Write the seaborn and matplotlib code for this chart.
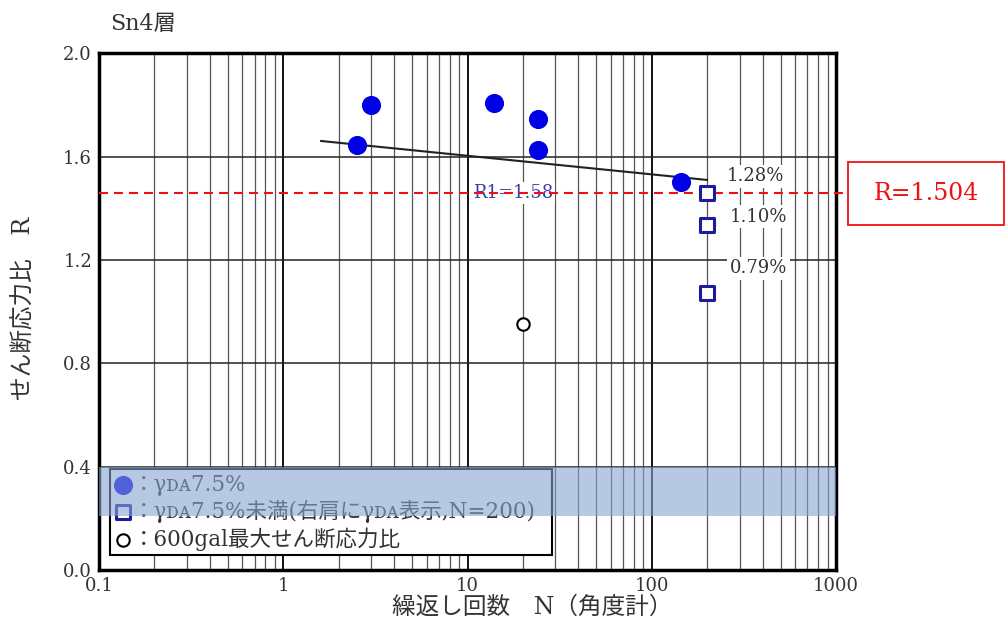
import matplotlib
matplotlib.use("Agg")
import matplotlib.pyplot as plt
import matplotlib.patches as mpatches
from matplotlib.ticker import FixedLocator, NullFormatter
import numpy as np
import pandas as pd
import seaborn as sns

# ---------------- data ----------------
N_da = [2.5, 3.0, 14, 24, 24, 145]
R_da = [1.645, 1.80, 1.807, 1.745, 1.626, 1.503]

N_sq = [200, 200, 200]
R_sq = [1.46, 1.336, 1.071]
sq_labels = ["1.28%", "1.10%", "0.79%"]

N_600 = [20]
R_600 = [0.952]

fit_N = [1.6, 200]
fit_R = [1.661, 1.510]

R_line = 1.46
R1_text = "R1=1.58"
R_box_text = "R=1.504"

band_lo, band_hi = 0.21, 0.40

x_ticks = [0.1, 1, 10, 100, 1000]
x_ticklabels = ["0.1", "1", "10", "100", "1000"]
y_ticks = [0.0, 0.4, 0.8, 1.2, 1.6, 2.0]
y_ticklabels = ["0.0", "0.4", "0.8", "1.2", "1.6", "2.0"]

title = "Sn4層"
xlabel = "繰返し回数　N（角度計）"
ylabel = "せん断応力比　R"
leg_labels = ["：γ\u1d05\u1d007.5%",
              "：γ\u1d05\u1d007.5%未満(右肩にγ\u1d05\u1d00表示,N=200)",
              "：600gal最大せん断応力比"]

# ---------------- style ----------------
sns.set_theme(style="white")
FAM = ["DejaVu Serif", "DejaVu Sans", "Noto Sans CJK JP"]
plt.rcParams["font.family"] = FAM

fig = plt.figure(figsize=(10.08, 6.3), dpi=100)
ax = fig.add_axes([99 / 1008, 1 - 570 / 630, 737 / 1008, 516.6 / 630])

ax.set_xscale("log")
ax.set_xlim(0.1, 1000)
ax.set_ylim(0.0, 2.0)

# grid
ax.xaxis.set_major_locator(FixedLocator(x_ticks))
minor = [m * 10.0 ** e for e in range(-1, 3) for m in range(2, 10)]
ax.xaxis.set_minor_locator(FixedLocator(minor))
ax.xaxis.set_minor_formatter(NullFormatter())
ax.set_xticks(x_ticks)
ax.set_xticklabels(x_ticklabels)
ax.set_yticks(y_ticks)
ax.set_yticklabels(y_ticklabels)
ax.grid(axis="x", which="major", color="#111111", lw=1.4, zorder=0)
ax.grid(axis="x", which="minor", color="#555555", lw=0.9, zorder=0)
ax.grid(axis="y", which="major", color="#222222", lw=1.1, zorder=0)
ax.set_axisbelow(True)
ax.tick_params(axis="both", which="both", length=0, labelsize=13, labelcolor="#333333")
ax.tick_params(axis="x", pad=5)
ax.tick_params(axis="y", pad=5)
for s in ax.spines.values():
    s.set_color("black")
    s.set_linewidth(2.5)
    s.set_visible(True)

# fit line
sns.lineplot(x=fit_N, y=fit_R, ax=ax, color="#222222", lw=1.5, zorder=3,
             estimator=None, sort=False)

# points
sns.scatterplot(x=N_da, y=R_da, ax=ax, color="#0000e6", s=190, marker="o",
                edgecolor="#0000e6", linewidth=0, zorder=6, label=leg_labels[0])
sns.scatterplot(x=N_sq, y=R_sq, ax=ax, marker="s", s=95, facecolor="white",
                edgecolor="#1c1ca0", linewidth=2.2, zorder=6, label=leg_labels[1])
sns.scatterplot(x=N_600, y=R_600, ax=ax, marker="o", s=80, facecolor="white",
                edgecolor="black", linewidth=1.5, zorder=6, label=leg_labels[2])

# labels next to squares
sq_offsets = [(14, 12), (16, 6), (16, 18)]
for n, r, t, off in zip(N_sq, R_sq, sq_labels, sq_offsets):
    ax.annotate(t, (n, r), xytext=off, textcoords="offset points",
                ha="left", va="center", fontsize=13, color="#333333", zorder=4,
                bbox=dict(boxstyle="square,pad=0.15", fc="white", ec="none"))

# R1 label
ax.text(10.7, R_line, R1_text, ha="left", va="center", fontsize=13,
        color="#3c3ca8", zorder=4,
        bbox=dict(boxstyle="square,pad=0.1", fc="white", ec="none"))

# red dashed line (extends past right spine to the box)
ln, = ax.plot([0, 1.012], [R_line, R_line], transform=ax.get_yaxis_transform(),
              color="#ee1111", lw=1.5, clip_on=False, zorder=5)
ln.set_dashes([4.3, 2.9])

# legend
leg = ax.legend(loc="lower left", bbox_to_anchor=(0.015, 0.029, 0.6, 0.178),
                mode="expand", frameon=True, fancybox=False, edgecolor="black",
                framealpha=1, fontsize=15.5, handlelength=0.8, handletextpad=0.05,
                borderpad=0.2, labelspacing=0.2, borderaxespad=0)
leg.get_frame().set_linewidth(1.5)
leg.set_zorder(7)
for t in leg.get_texts():
    t.set_color("#333333")

# blue band
ax.axhspan(band_lo, band_hi, color="#87a5cf", alpha=0.6, lw=0, zorder=8)

# title and axis labels
ax.text(0.015, 1.035, title, transform=ax.transAxes, ha="left", va="bottom",
        fontsize=16, color="#333333")
ax.set_xlabel(xlabel, fontsize=17, color="#333333")
ax.xaxis.label.set_va("center")
ax.xaxis.set_label_coords((532 - 99) / 737, -(607 - 570) / 516.6)
ax.set_ylabel(ylabel, fontsize=17, color="#333333")
ax.yaxis.label.set_va("center")
ax.yaxis.set_label_coords((24 - 99) / 737, (570 - 308) / 516.6)

# red box on the right
fig.patches.append(mpatches.Rectangle((848 / 1008, 1 - 225 / 630), 156 / 1008, 63 / 630,
                                      transform=fig.transFigure, fill=False,
                                      ec="#ee1111", lw=1.3))
fig.text(926 / 1008, 1 - 193 / 630, R_box_text, ha="center", va="center",
         fontsize=17, color="#ee1111")

fig.savefig("out.png", dpi=100)
